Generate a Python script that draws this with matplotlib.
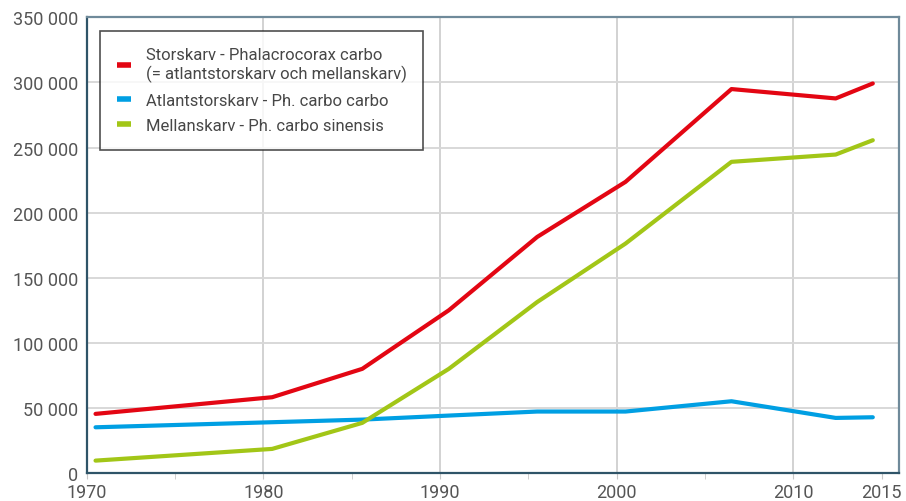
import matplotlib
matplotlib.use("Agg")
import matplotlib.pyplot as plt
from matplotlib.ticker import FixedLocator, FuncFormatter

plt.rcParams['font.family'] = ['Roboto', 'DejaVu Sans']

years = [1970.5, 1980.5, 1985.6, 1990.5, 1995.5, 2000.5, 2006.5, 2012.4, 2014.5]
storskarv = [45400, 58200, 80000, 125000, 181300, 223600, 294900, 287700, 299200]
atlant = [35100, 39000, 41000, 44100, 47200, 47200, 55100, 42300, 42800]
mellan = [9500, 18500, 38500, 80000, 131300, 176200, 239000, 244600, 255600]

labels = ["Storskarv - Phalacrocorax carbo\n(= atlantstorskarv och mellanskarv)",
          "Atlantstorskarv - Ph. carbo carbo",
          "Mellanskarv - Ph. carbo sinensis"]
colors = ["#e30613", "#009fe3", "#a2c617"]

xticks = [1970, 1980, 1990, 2000, 2010, 2015]
xgrid = [1970, 1980, 1990, 2000, 2010]
xminor = [1975, 1985, 1995, 2005]
yticks = [0, 50000, 100000, 150000, 200000, 250000, 300000, 350000]

fig = plt.figure(figsize=(9.06, 5.02), dpi=100)
ax = fig.add_axes([0.0957, 0.0558, 0.8969, 0.9077])

for vals, lab, c in zip([storskarv, atlant, mellan], labels, colors):
    ax.plot(years, vals, color=c, lw=3.0, label=lab, solid_capstyle='round', solid_joinstyle='round', zorder=3)

ax.set_xlim(1970, 2016)
ax.set_ylim(0, 350000)

for g in xgrid:
    ax.axvline(g, color="#d2d2d2", lw=1.4, zorder=1)
for g in yticks:
    ax.axhline(g, color="#d8d8d8", lw=1.4, zorder=1)

ax.xaxis.set_major_locator(FixedLocator(xticks))
ax.xaxis.set_minor_locator(FixedLocator(xminor))
ax.yaxis.set_major_locator(FixedLocator(yticks))
ax.yaxis.set_major_formatter(FuncFormatter(lambda v, p: f"{int(v):,}".replace(",", " ")))
ax.xaxis.set_major_formatter(FuncFormatter(lambda v, p: f"{int(v)}"))

ax.tick_params(axis='x', which='major', length=4, color="#c8c8c8", labelsize=13, labelcolor="#555555", pad=3)
ax.tick_params(axis='x', which='minor', length=4, color="#c8c8c8")
ax.tick_params(axis='y', which='major', length=0, labelsize=13, labelcolor="#555555", pad=6)

for s in ['left', 'bottom']:
    ax.spines[s].set_color("#2f5468")
    ax.spines[s].set_linewidth(1.6)
for s in ['top', 'right']:
    ax.spines[s].set_color("#6f8a9a")
    ax.spines[s].set_linewidth(1.6)

leg = ax.legend(loc='upper left', bbox_to_anchor=(0.0164, 0.9706), frameon=True, fancybox=False,
                fontsize=12, handlelength=0.85, handleheight=0.7, handletextpad=0.9,
                labelspacing=0.62, borderpad=1.0, borderaxespad=0)
leg.get_frame().set_edgecolor("#222222")
leg.get_frame().set_linewidth(1.2)
for t in leg.get_texts():
    t.set_color("#474747")
for h in leg.get_lines():
    h.set_linewidth(4)
    h.set_solid_capstyle('butt')

fig.savefig("out.png", dpi=100)
